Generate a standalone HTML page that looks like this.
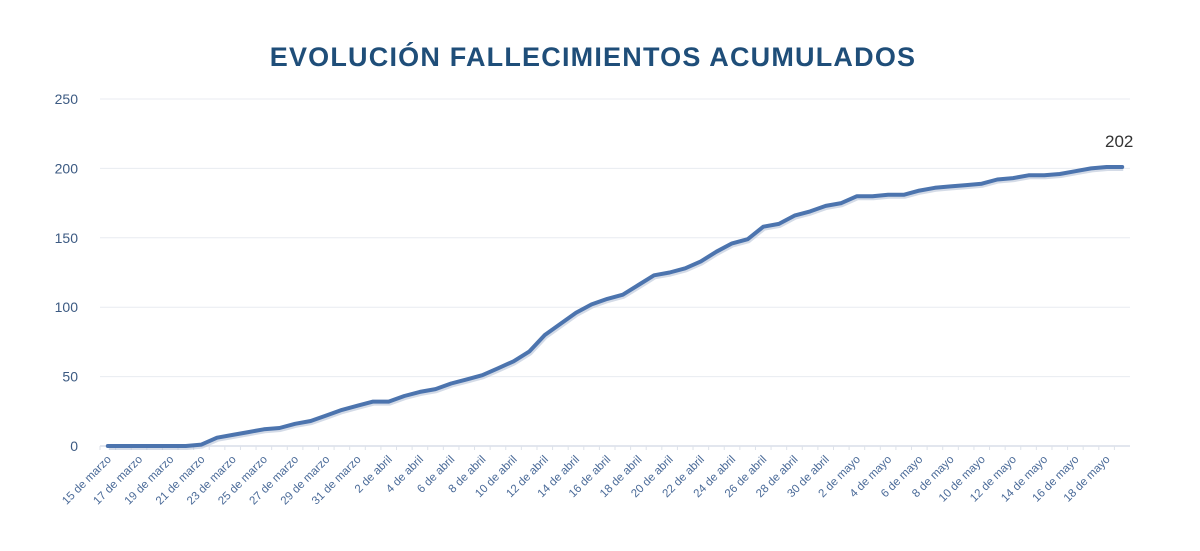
<!DOCTYPE html>
<html><head><meta charset="utf-8">
<style>
html,body{margin:0;padding:0;background:#fff;}
svg{display:block;font-family:"Liberation Sans",sans-serif;}
</style></head>
<body>
<svg id="chart" width="1200" height="551" viewBox="0 0 1200 551">
<text x="593" y="66" text-anchor="middle" font-size="27" font-weight="bold" fill="#1F4E79" letter-spacing="1.2">EVOLUCIÓN FALLECIMIENTOS ACUMULADOS</text>
<g id="grid"></g><g id="yaxis"></g><g id="xaxis"></g><g id="series"></g>
</svg>
<script>
const categories = (function(){const a=[];for(let d=15;d<=31;d++)a.push(d+" de marzo");for(let d=1;d<=30;d++)a.push(d+" de abril");for(let d=1;d<=19;d++)a.push(d+" de mayo");return a;})();
const deaths = [0,0,0,0,0,0,1,6,8,10,12,13,16,18,22,26,29,32,32,36,39,41,45,48,51,56,61,68,80,88,96,102,106,109,116,123,125,128,133,140,146,149,158,160,166,169,173,175,180,180,181,181,184,186,187,188,189,192,193,195,195,196,198,200,201,201];
const yTicks = [0,50,100,150,200,250];
const lastLabel = ["202"];

const NS="http://www.w3.org/2000/svg";
const L=100,R=1130,T=99,B=446,yMax=250;
const band=(R-L)/categories.length;
function xs(i){return L+band*(i+0.5);}
function ys(v){return B-(v/yMax)*(B-T);}
function mk(tag,attrs,parent){const e=document.createElementNS(NS,tag);for(const k in attrs)e.setAttribute(k,attrs[k]);parent.appendChild(e);return e;}
const grid=document.getElementById('grid'),yaxis=document.getElementById('yaxis'),xaxis=document.getElementById('xaxis'),series=document.getElementById('series');
yTicks.forEach(t=>{
  const ln=mk('line',{x1:L,x2:R,y1:ys(t),y2:ys(t),stroke:t===0?'#d9dee8':'#e8ebf1','stroke-width':t===0?1.5:1},grid);
  
  
  const tx=mk('text',{x:78,y:ys(t)+5,'text-anchor':'end','font-size':14,fill:'#3c5a82'},yaxis);
  tx.textContent=t;
  
  
});
categories.forEach((c,i)=>{
  const tk=mk('line',{x1:L+band*i,x2:L+band*i,y1:B,y2:B+4,stroke:'#dde2ea','stroke-width':1},xaxis);
  
  
  if(i%2===0){
    const x=xs(i)+4,y=B+14;
    const tx=mk('text',{x:x,y:y,'text-anchor':'end','font-size':11.5,fill:'#4a6a98',transform:'rotate(-45 '+x+' '+y+')'},xaxis);
    tx.textContent=c;
    
    
  }
});
const pts=deaths.map((v,i)=>xs(i).toFixed(1)+','+ys(v).toFixed(1)).join(' ');
const sh=mk('polyline',{points:pts,fill:'none',stroke:'#a9b8d0','stroke-width':4,'stroke-linejoin':'round',transform:'translate(1,2)',opacity:0.5},series);


const pl=mk('polyline',{points:pts,fill:'none',stroke:'#4c74ae','stroke-width':4,'stroke-linejoin':'round','stroke-linecap':'round'},series);


const n=deaths.length-1;
const lb=mk('text',{x:xs(n)-3,y:ys(deaths[n])-20,'text-anchor':'middle','font-size':17,fill:'#333'},series);
lb.textContent=lastLabel[0];


</script>
</body></html>
